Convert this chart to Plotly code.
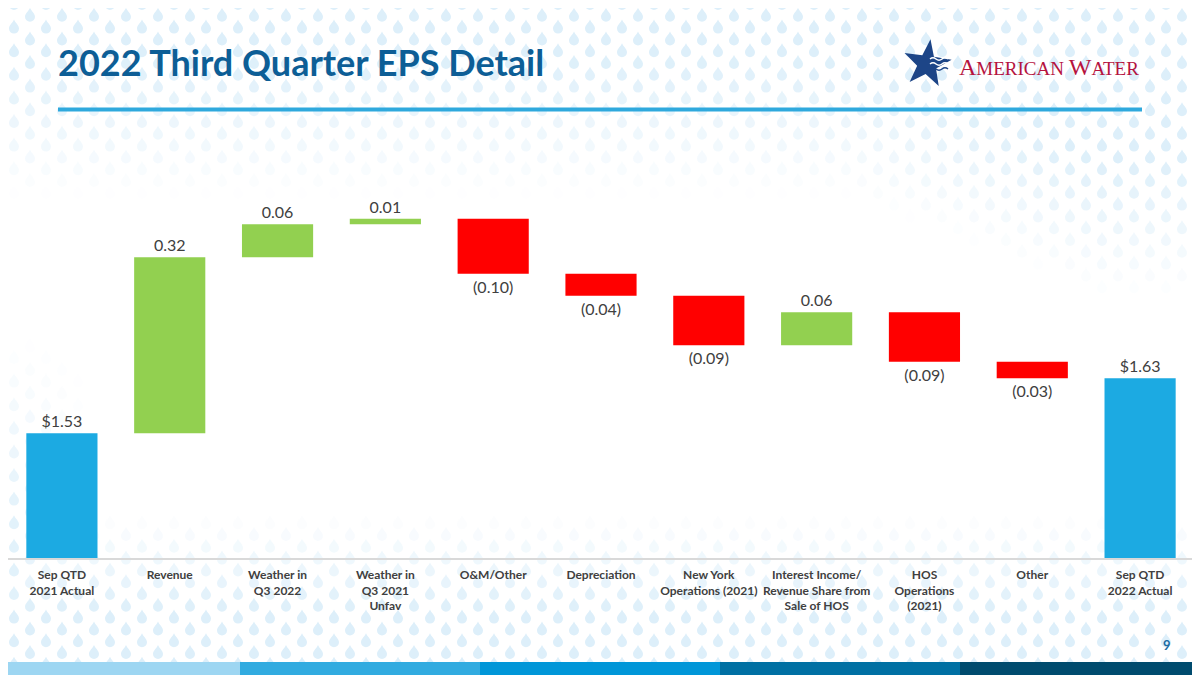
import base64
import math
import plotly.graph_objects as go

# data
categories = [
    "Sep QTD<br>2021 Actual", "Revenue", "Weather in<br>Q3 2022",
    "Weather in<br>Q3 2021<br>Unfav", "O&M/Other", "Depreciation",
    "New York<br>Operations (2021)", "Interest Income/<br>Revenue Share from<br>Sale of HOS",
    "HOS<br>Operations<br>(2021)", "Other", "Sep QTD<br>2022 Actual",
]
start_eps = 1.53
changes = [0.32, 0.06, 0.01, -0.10, -0.04, -0.09, 0.06, -0.09, -0.03]
end_eps = 1.63

# the page body adds 8px, so the figure is a bit smaller than the window
OFF = 8
W, H = 1200 - OFF, 675 - OFF
ML, MR, MT, MB = 0, 6, 142, 117


def px_x(x):
    # x in window pixels -> paper
    return (x - OFF - ML) / (W - ML - MR)


def px_y(y):
    return (H - MB - (y - OFF)) / (H - MT - MB)


measures = ["absolute"] + ["relative"] * len(changes) + ["total"]
values = [start_eps] + changes + [0]
texts = ["$%.2f" % start_eps]
for c in changes:
    texts.append("%.2f" % c if c > 0 else "(%.2f)" % abs(c))
texts.append("$%.2f" % end_eps)

fig = go.Figure(go.Waterfall(
    x=categories,
    y=values,
    measure=measures,
    text=texts,
    textposition="outside",
    textfont=dict(family="Lato", size=16, color="#404040"),
    increasing=dict(marker=dict(color="#92d050", line=dict(width=0))),
    decreasing=dict(marker=dict(color="#ff0000", line=dict(width=0))),
    totals=dict(marker=dict(color="#1caae2", line=dict(width=0))),
    connector=dict(visible=False),
    cliponaxis=False,
    hoverinfo="skip",
))


# faint water-drop background (top and bottom of the slide, white in the middle)
def drop_path(x, y):
    return ("M%.1f,%.1f C%.1f,%.1f %.1f,%.1f %.1f,%.1f A5,5 0 0 1 %.1f,%.1f "
            "C%.1f,%.1f %.1f,%.1f %.1f,%.1f Z") % (
        x, y, x + 1, y + 3, x + 5, y + 5.5, x + 5, y + 9, x - 5, y + 9,
        x - 5, y + 5.5, x - 1, y + 3, x, y)


def clip01(v):
    return min(max(v, 0.0), 1.0)


def drop_alpha(x, y):
    top_end = 190 + 100 * clip01((x - 850) / 250.0)
    top = clip01((top_end - y) / 140.0)
    bottom = clip01((y - 505) / 100.0)
    left = clip01((90 - x) / 90.0) * clip01((y - 330) / 180.0)
    return max(top, bottom, left)


parts = []
row = 0
y = -4.0
while y < 675:
    x = 14 if row % 2 == 0 else 30
    while x < 1210:
        a = drop_alpha(x, y)
        if a > 0.03:
            parts.append("<path d='%s' fill='#ddeffa' fill-opacity='%.2f'/>" % (drop_path(x, y), a))
        x += 32
    y += 11.8
    row += 1

svg = ("<svg xmlns='http://www.w3.org/2000/svg' width='1200' height='675' "
       "viewBox='0 0 1200 675'>" + "".join(parts) + "</svg>")
bg_src = "data:image/svg+xml;base64," + base64.b64encode(svg.encode()).decode()

pw, ph = W - ML - MR, H - MT - MB
images = [dict(source=bg_src, xref="paper", yref="paper",
               x=px_x(0), y=px_y(0), sizex=1200 / pw, sizey=675 / ph,
               xanchor="left", yanchor="top", sizing="stretch", layer="below")]

shapes = []
# rule under the title
shapes.append(dict(type="line", xref="paper", yref="paper",
                   x0=px_x(58), x1=px_x(1142), y0=px_y(109.5), y1=px_y(109.5),
                   line=dict(color="#2fa9dd", width=4)))
# footer colour band
band_colors = ["#9dd6f2", "#31abe0", "#0096d8", "#0070a3", "#004b6e"]
for i, c in enumerate(band_colors):
    shapes.append(dict(type="rect", xref="paper", yref="paper",
                       x0=px_x(i * 240), x1=px_x((i + 1) * 240),
                       y0=px_y(676), y1=px_y(662),
                       line=dict(width=0), fillcolor=c, layer="below"))

# logo star
cx, cy, ro, ri = 927, 64, 25, 10
pts = []
for k in range(10):
    a = math.radians(-90 + 8 + k * 36)
    r = ro if k % 2 == 0 else ri
    pts.append((px_x(cx + r * math.cos(a)), px_y(cy + r * math.sin(a))))
path = "M " + " L ".join("%.5f,%.5f" % p for p in pts) + " Z"
shapes.append(dict(type="path", xref="paper", yref="paper", path=path,
                   fillcolor="#1d4587", line=dict(width=0)))
# waves on the star
for j in range(3):
    yy = 59 + j * 5
    wave = "M %.5f,%.5f Q %.5f,%.5f %.5f,%.5f T %.5f,%.5f T %.5f,%.5f" % (
        px_x(930), px_y(yy), px_x(933), px_y(yy - 2.5), px_x(936), px_y(yy),
        px_x(942), px_y(yy), px_x(948), px_y(yy))
    shapes.append(dict(type="path", xref="paper", yref="paper", path=wave,
                       line=dict(color="white" if j < 2 else "#1d4587", width=1.5)))

annotations = [
    dict(text="<b>2022 Third Quarter EPS Detail</b>", xref="paper", yref="paper",
         x=px_x(56), y=px_y(62), xanchor="left", yanchor="middle", showarrow=False,
         font=dict(family="Lato", size=36, color="#0d5e96")),
    dict(text="<span style='font-size:24px'>A</span>MERICAN <span style='font-size:24px'>W</span>ATER",
         xref="paper", yref="paper", x=px_x(957), y=px_y(67), xanchor="left",
         yanchor="middle", showarrow=False,
         font=dict(family="Liberation Serif", size=19, color="#b5133f")),
    dict(text="<b>9</b>", xref="paper", yref="paper", x=px_x(1173), y=px_y(645),
         xanchor="right", yanchor="middle", showarrow=False,
         font=dict(family="Lato", size=13, color="#1c6ca3")),
]

fig.update_layout(
    width=W, height=H,
    margin=dict(l=ML, r=MR, t=MT, b=MB),
    paper_bgcolor="white", plot_bgcolor="rgba(0,0,0,0)",
    showlegend=False,
    waterfallgap=0.34,
    shapes=shapes,
    annotations=annotations,
    images=images,
    font=dict(family="Lato"),
)
fig.update_xaxes(showline=True, linecolor="#d9d9d9", linewidth=1.5, showgrid=False,
                 ticks="", ticklabelstandoff=5,
                 tickfont=dict(family="Lato", size=12, color="#404040", weight="bold"))
fig.update_yaxes(range=[1.303, 2.045], visible=False, showgrid=False)

fig.write_html("out.html")
